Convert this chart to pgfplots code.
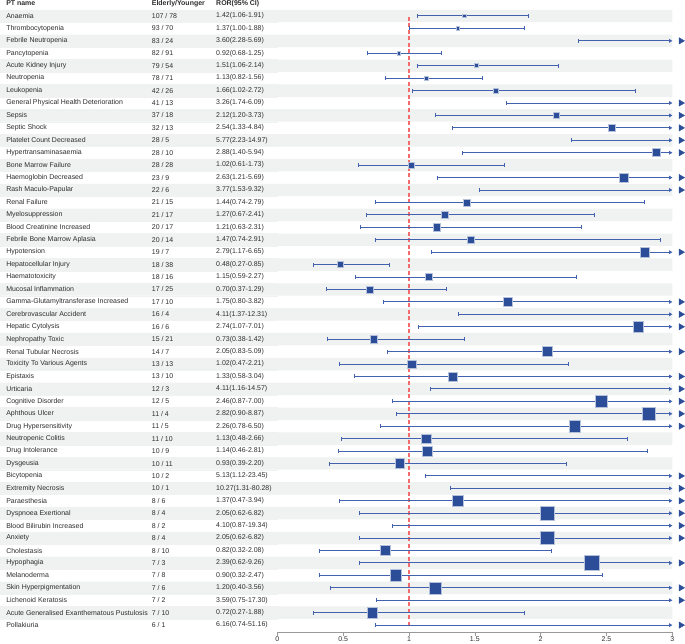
\documentclass[border=0pt]{standalone}
\usepackage{fontspec}
\setmainfont{Liberation Sans}
\usepackage{pgfplots}
\usepackage{pgfplotstable}
\pgfplotsset{compat=1.18}
\usetikzlibrary{arrows.meta}

\definecolor{stripe}{RGB}{239,242,240}
\definecolor{ciblue}{RGB}{66,98,176}
\definecolor{sqblue}{RGB}{44,77,151}
\definecolor{refred}{RGB}{242,108,108}
\definecolor{txt}{RGB}{45,45,45}

% row, PT name, counts, ROR text, estimate, lower, upper
\pgfplotstableread[col sep=comma]{
row,name,cnt,ror,est,lo,hi
1,Anaemia,107 / 78,1.42(1.06-1.91),1.42,1.06,1.91
2,Thrombocytopenia,93 / 70,1.37(1.00-1.88),1.37,1.00,1.88
3,Febrile Neutropenia,83 / 24,3.60(2.28-5.69),3.60,2.28,5.69
4,Pancytopenia,82 / 91,0.92(0.68-1.25),0.92,0.68,1.25
5,Acute Kidney Injury,79 / 54,1.51(1.06-2.14),1.51,1.06,2.14
6,Neutropenia,78 / 71,1.13(0.82-1.56),1.13,0.82,1.56
7,Leukopenia,42 / 26,1.66(1.02-2.72),1.66,1.02,2.72
8,General Physical Health Deterioration,41 / 13,3.26(1.74-6.09),3.26,1.74,6.09
9,Sepsis,37 / 18,2.12(1.20-3.73),2.12,1.20,3.73
10,Septic Shock,32 / 13,2.54(1.33-4.84),2.54,1.33,4.84
11,Platelet Count Decreased,28 / 5,5.77(2.23-14.97),5.77,2.23,14.97
12,Hypertransaminasaemia,28 / 10,2.88(1.40-5.94),2.88,1.40,5.94
13,Bone Marrow Failure,28 / 28,1.02(0.61-1.73),1.02,0.61,1.73
14,Haemoglobin Decreased,23 / 9,2.63(1.21-5.69),2.63,1.21,5.69
15,Rash Maculo-Papular,22 / 6,3.77(1.53-9.32),3.77,1.53,9.32
16,Renal Failure,21 / 15,1.44(0.74-2.79),1.44,0.74,2.79
17,Myelosuppression,21 / 17,1.27(0.67-2.41),1.27,0.67,2.41
18,Blood Creatinine Increased,20 / 17,1.21(0.63-2.31),1.21,0.63,2.31
19,Febrile Bone Marrow Aplasia,20 / 14,1.47(0.74-2.91),1.47,0.74,2.91
20,Hypotension,19 / 7,2.79(1.17-6.65),2.79,1.17,6.65
21,Hepatocellular Injury,18 / 38,0.48(0.27-0.85),0.48,0.27,0.85
22,Haematotoxicity,18 / 16,1.15(0.59-2.27),1.15,0.59,2.27
23,Mucosal Inflammation,17 / 25,0.70(0.37-1.29),0.70,0.37,1.29
24,Gamma-Glutamyltransferase Increased,17 / 10,1.75(0.80-3.82),1.75,0.80,3.82
25,Cerebrovascular Accident,16 / 4,4.11(1.37-12.31),4.11,1.37,12.31
26,Hepatic Cytolysis,16 / 6,2.74(1.07-7.01),2.74,1.07,7.01
27,Nephropathy Toxic,15 / 21,0.73(0.38-1.42),0.73,0.38,1.42
28,Renal Tubular Necrosis,14 / 7,2.05(0.83-5.09),2.05,0.83,5.09
29,Toxicity To Various Agents,13 / 13,1.02(0.47-2.21),1.02,0.47,2.21
30,Epistaxis,13 / 10,1.33(0.58-3.04),1.33,0.58,3.04
31,Urticaria,12 / 3,4.11(1.16-14.57),4.11,1.16,14.57
32,Cognitive Disorder,12 / 5,2.46(0.87-7.00),2.46,0.87,7.00
33,Aphthous Ulcer,11 / 4,2.82(0.90-8.87),2.82,0.90,8.87
34,Drug Hypersensitivity,11 / 5,2.26(0.78-6.50),2.26,0.78,6.50
35,Neutropenic Colitis,11 / 10,1.13(0.48-2.66),1.13,0.48,2.66
36,Drug Intolerance,10 / 9,1.14(0.46-2.81),1.14,0.46,2.81
37,Dysgeusia,10 / 11,0.93(0.39-2.20),0.93,0.39,2.20
38,Bicytopenia,10 / 2,5.13(1.12-23.45),5.13,1.12,23.45
39,Extremity Necrosis,10 / 1,10.27(1.31-80.28),10.27,1.31,80.28
40,Paraesthesia,8 / 6,1.37(0.47-3.94),1.37,0.47,3.94
41,Dyspnoea Exertional,8 / 4,2.05(0.62-6.82),2.05,0.62,6.82
42,Blood Bilirubin Increased,8 / 2,4.10(0.87-19.34),4.10,0.87,19.34
43,Anxiety,8 / 4,2.05(0.62-6.82),2.05,0.62,6.82
44,Cholestasis,8 / 10,0.82(0.32-2.08),0.82,0.32,2.08
45,Hypophagia,7 / 3,2.39(0.62-9.26),2.39,0.62,9.26
46,Melanoderma,7 / 8,0.90(0.32-2.47),0.90,0.32,2.47
47,Skin Hyperpigmentation,7 / 6,1.20(0.40-3.56),1.20,0.40,3.56
48,Lichenoid Keratosis,7 / 2,3.59(0.75-17.30),3.59,0.75,17.30
49,Acute Generalised Exanthematous Pustulosis,7 / 10,0.72(0.27-1.88),0.72,0.27,1.88
50,Pollakiuria,6 / 1,6.16(0.74-51.16),6.16,0.74,51.16
}\rortable
% square half-width grows with the width of the CI
\pgfplotstablecreatecol[create col/expr={2.75*ln(\thisrow{hi}/\thisrow{lo})}]{ms}\rortable

\begin{document}
\begin{tikzpicture}
\begin{axis}[
    scale only axis,
    width=395bp, height=632bp,
    xmin=0, xmax=3,
    ymin=-50.56, ymax=0.287,
    clip=false,
    axis x line*=bottom,
    axis y line=none,
    ytick=\empty,
    xtick={0,0.5,1,1.5,2,2.5,3},
    xticklabels={0,0.5,1,1.5,2,2.5,3},
    tick align=outside,
    major tick length=3.5bp,
    x axis line style={draw=gray!80, line width=0.6bp},
    xtick style={draw=gray!80, line width=0.6bp},
    xticklabel style={font=\fontsize{7}{8}\selectfont, text=txt, inner sep=0pt, yshift=-0.5bp},
    every node near coord/.style={anchor=west, inner sep=0pt, font=\fontsize{7}{8}\selectfont, text=txt},
]
% zebra stripes on odd rows
\addplot[xbar, bar width=1, bar shift=0pt, draw=none, fill=stripe, forget plot,
    restrict expr to domain={mod(\thisrow{row},2)}{0.5:1.5}]
    table[x expr=3, y expr=-\thisrow{row}] {\rortable};
\addplot[xbar, bar width=1, bar shift=0pt, draw=stripe, line width=0.2bp, fill=stripe, forget plot,
    restrict expr to domain={mod(\thisrow{row},2)}{0.5:1.5}]
    table[x expr=-2.106, y expr=-\thisrow{row}] {\rortable};

% reference line at ROR = 1
\addplot[refred, line width=1.3bp, dash pattern=on 4bp off 2.5bp]
    coordinates {(1,-1.08) (1,-50.1)};

% confidence intervals inside the axis
\addplot[ciblue, line width=1bp, mark=none,
    {Bar[width=4bp, line width=0.7bp]}-{Bar[width=4bp, line width=0.7bp]},
    quiver={u={\thisrow{hi}-\thisrow{lo}}, v=0,
            every arrow/.append style={draw=ciblue, fill=ciblue}},
    restrict expr to domain={\thisrow{hi}}{0:3}]
    table[x=lo, y expr=-\thisrow{row}] {\rortable};

% confidence intervals cut at 3, with an arrow head
\addplot[ciblue, line width=1bp, mark=none,
    {Bar[width=4bp, line width=0.7bp]}-{Triangle[length=3.2bp, width=3.6bp]},
    quiver={u={3-\thisrow{lo}}, v=0,
            every arrow/.append style={draw=ciblue, fill=ciblue}},
    restrict expr to domain={\thisrow{hi}}{3.0001:1000}]
    table[x=lo, y expr=-\thisrow{row}] {\rortable};

% point estimates, square size from CI width
\addplot[scatter, only marks, mark=square*,
    restrict x to domain=0:3,
    scatter/use mapped color={fill=sqblue, draw=sqblue!35},
    visualization depends on={\thisrow{ms} \as \sqsz},
    scatter/@pre marker code/.append style={/tikz/mark size=\sqsz},
    mark options={line width=0.6bp}]
    table[x=est, y expr=-\thisrow{row}] {\rortable};

% big triangles at the right
\addplot[only marks, mark=triangle*, mark size=3.6bp,
    mark options={rotate=-90, fill=sqblue, draw=sqblue},
    restrict expr to domain={\thisrow{hi}}{3.0001:1000}]
    table[x expr=3.065, y expr=-\thisrow{row}] {\rortable};

% text columns
\addplot[only marks, mark=none, nodes near coords, point meta=explicit symbolic]
    table[x expr=-2.06, y expr=-\thisrow{row}, meta=name] {\rortable};
\addplot[only marks, mark=none, nodes near coords, point meta=explicit symbolic]
    table[x expr=-0.954, y expr=-\thisrow{row}, meta=cnt] {\rortable};
\addplot[only marks, mark=none, nodes near coords, point meta=explicit symbolic]
    table[x expr=-0.4655, y expr=-\thisrow{row}, meta=ror] {\rortable};

\node[anchor=west, inner sep=0pt, font=\fontsize{7}{8}\selectfont\bfseries, text=txt] at (axis cs:-2.06,0) {PT name};
\node[anchor=west, inner sep=0pt, font=\fontsize{7}{8}\selectfont\bfseries, text=txt] at (axis cs:-0.954,0) {Elderly/Younger};
\node[anchor=west, inner sep=0pt, font=\fontsize{7}{8}\selectfont\bfseries, text=txt] at (axis cs:-0.4655,0) {ROR(95\% CI)};

\coordinate (bbsw) at (axis cs:-2.106,-51.44);
\coordinate (bbne) at (axis cs:3.096,0.287);
\end{axis}
\pgfresetboundingbox
\useasboundingbox (bbsw) rectangle (bbne);
\end{tikzpicture}
\end{document}
